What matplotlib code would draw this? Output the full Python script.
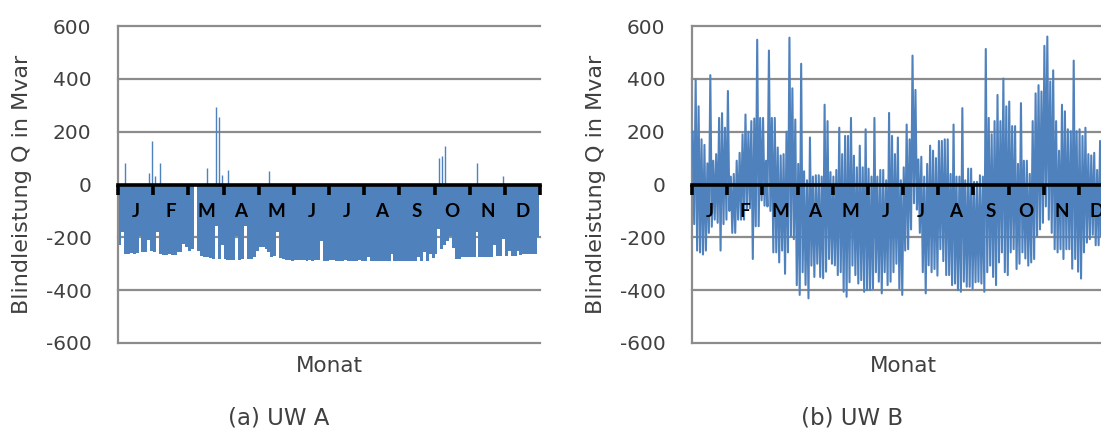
import matplotlib
matplotlib.use('Agg')
import matplotlib.pyplot as plt
import numpy as np

# ---------------- data ----------------
months = ['J', 'F', 'M', 'A', 'M', 'J', 'J', 'A', 'S', 'O', 'N', 'D']
bins_per_month = 12          # envelope samples per month (~2.5 days each)
y_ticks = [-600, -400, -200, 0, 200, 400, 600]
ylabel = 'Blindleistung Q in Mvar'
xlabel = 'Monat'
titles = ['(a) UW A', '(b) UW B']

# UW A: upper / lower envelope of the hourly reactive power (Mvar)
A_hi = [0, 0, 81, 0, 0, 0, 0, 0, 0, 0, 44, 166, 31, 0, 81, 0, 0, 0, 0, 0,
        0, 0, 0, 0, 0, 0, 0, 0, 0, 0, 62, 0, 0, 294, 256, 37, 0, 54, 0, 0,
        0, 0, 0, 0, 0, 0, 0, 0, 0, 0, 0, 50, 0, 0, 0, 0, 0, 0, 0, 0,
        0, 0, 0, 0, 0, 0, 0, 0, 0, 0, 0, 0, 0, 0, 0, 0, 0, 0, 0, 0,
        0, 0, 0, 0, 0, 0, 0, 0, 0, 0, 0, 0, 0, 0, 0, 0, 0, 0, 0, 0,
        0, 0, 0, 0, 0, 0, 0, 0, 0, 100, 106, 146, 0, 0, 0, 0, 0, 0, 0, 0,
        0, 0, 81, 0, 0, 0, 0, 0, 0, 0, 0, 31, 0, 0, 0, 0, 0, 0, 0, 0,
        0, 0, 0, 0]
A_lo = [-230, -180, -262, -262, -260, -262, -258, -195, -256, -255,
        -210, -250, -255, -181, -262, -265, -265, -262, -265, -265,
        -255, -255, -225, -235, -250, -245, -5, -250, -270, -275,
        -275, -280, -281, -156, -281, -230, -283, -285, -285, -285,
        -195, -285, -283, -156, -281, -281, -275, -250, -237, -237,
        -245, -256, -275, -270, -181, -280, -281, -285, -285, -288,
        -285, -285, -285, -285, -288, -285, -288, -285, -285, -212,
        -288, -290, -285, -287, -288, -290, -288, -287, -290, -288,
        -290, -288, -287, -290, -288, -275, -290, -290, -288, -290,
        -290, -288, -290, -262, -290, -290, -288, -290, -290, -288,
        -290, -290, -275, -290, -255, -290, -262, -280, -262, -170,
        -245, -230, -212, -194, -240, -281, -281, -275, -275, -275,
        -275, -275, -181, -275, -275, -275, -275, -275, -230, -270,
        -270, -206, -270, -250, -270, -270, -250, -265, -262, -262,
        -262, -262, -262, -200]

# UW B: upper / lower envelope of the hourly reactive power (Mvar)
B_hi = [200, 395, 296, 171, 150, 80, 414, 90, 115, 252, 270, 215, 354, 30,
        40, 90, 120, 190, 265, 200, 240, 250, 548, 252, 252, 90, 507, 252,
        252, 140, 110, 115, 200, 556, 364, 246, 78, 457, 50, 16, 178, 30,
        35, 35, 30, 302, 240, 47, 30, 55, 215, 115, 184, 184, 252, 109, 65,
        147, 65, 209, 60, 30, 252, 30, 55, 55, 16, 271, 184, 115, 178, 16,
        65, 227, 171, 488, 358, 95, 105, 30, 78, 147, 128, 100, 165, 165,
        171, 171, 40, 227, 30, 30, 289, 16, 60, 60, 10, 10, 35, 30, 513,
        252, 190, 240, 339, 240, 401, 296, 314, 221, 221, 78, 308, 90, 90,
        40, 240, 345, 376, 352, 525, 560, 390, 432, 240, 128, 302, 277, 209,
        202, 469, 202, 209, 184, 215, 115, 110, 120, 55, 165, 150, 120, 160,
        130]
B_lo = [-150, -250, -257, -265, -250, -183, -160, -133, -145, -250, -150,
        -133, -100, -183, -183, -133, -133, -133, -90, -90, -282, -158, -158,
        -60, -80, -83, -100, -257, -257, -295, -250, -338, -257, -195, -207,
        -381, -418, -332, -380, -431, -307, -350, -300, -350, -355, -330,
        -282, -300, -306, -343, -332, -406, -425, -370, -307, -343, -375,
        -362, -406, -400, -400, -394, -332, -368, -412, -332, -381, -368,
        -332, -300, -394, -418, -250, -245, -170, -71, -95, -183, -332, -412,
        -306, -332, -320, -345, -245, -290, -343, -343, -381, -375, -400,
        -406, -368, -387, -387, -394, -370, -368, -375, -406, -332, -307,
        -350, -381, -295, -257, -332, -343, -257, -245, -320, -300, -257,
        -280, -307, -295, -282, -195, -170, -145, -83, -133, -183, -245, -257,
        -245, -282, -245, -245, -319, -282, -330, -356, -257, -220, -207,
        -190, -230, -230, -195, -220, -240, -200, -220]

# ---------------- styling ----------------
W, H = 1101, 432
BLUE = '#4f81bd'
GRID = '#8c8c8c'
TXT = '#404040'
FONT = 'DejaVu Sans'

fig = plt.figure(figsize=(W / 100, H / 100), dpi=100)
panels = [(A_hi, A_lo, 118, True), (B_hi, B_lo, 692, False)]

for k, (hi, lo, left_px, solid_body) in enumerate(panels):
    ax = fig.add_axes([left_px / W, 1 - 343 / H, 422 / W, 317 / H])
    hi = np.asarray(hi, dtype=float)
    lo = np.asarray(lo, dtype=float)
    n = len(hi)
    idx = np.arange(n)

    # grid lines behind the data
    for v in y_ticks:
        if v != 0:
            ax.axhline(v, color=GRID, lw=1.6, zorder=0.5, clip_on=False)

    if solid_body:
        # dense body of the series: solid band between envelope and zero
        ax.fill_between(idx + 0.5, lo, np.minimum(hi, 0), step='mid',
                        color=BLUE, lw=0, zorder=1.8)
        pos = hi > 0
        ax.vlines(idx[pos] + 0.5, 0, hi[pos], color=BLUE, lw=1.0, zorder=1.9)
    else:
        xs = np.empty(2 * n)
        ys = np.empty(2 * n)
        xs[0::2] = idx + 0.25
        xs[1::2] = idx + 0.75
        ys[0::2] = hi
        ys[1::2] = lo
        ax.plot(xs, ys, color=BLUE, lw=1.5, zorder=1.9)

    ax.set_xlim(0, 12 * bins_per_month)
    ax.set_ylim(-600, 600)
    ax.set_axisbelow(False)

    # y axis
    ax.set_yticks(y_ticks)
    ax.set_yticklabels([str(v) for v in y_ticks], fontfamily=FONT)
    ax.tick_params(axis='y', length=0, pad=19, labelsize=14.5, labelcolor=TXT)

    # x axis on the zero line
    ax.spines['top'].set_visible(False)
    ax.spines['right'].set_visible(False)
    ax.spines['left'].set_color(GRID)
    ax.spines['left'].set_linewidth(1.6)
    ax.spines['left'].set_zorder(0.6)
    ax.spines['bottom'].set_position(('data', 0))
    ax.spines['bottom'].set_color('black')
    ax.spines['bottom'].set_linewidth(2.6)
    ax.spines['bottom'].set_zorder(3)

    bounds = np.arange(0, 12 * bins_per_month + 1, bins_per_month)
    centers = bounds[:-1] + bins_per_month / 2
    ax.set_xticks(bounds)
    ax.set_xticklabels([])
    ax.set_xticks(centers, minor=True)
    ax.set_xticklabels(months, minor=True, fontfamily='Lato',
                       fontweight='bold', fontsize=13.5, color='black')
    ax.tick_params(axis='x', which='major', direction='out', length=7,
                   width=2.6, color='black')
    ax.tick_params(axis='x', which='minor', length=0, pad=13)
    ax.xaxis.set_zorder(3)

    ax.set_ylabel(ylabel, fontsize=16, color=TXT, fontfamily=FONT)
    ax.yaxis.set_label_coords(-0.203, 0.5)
    ax.text(0.5, -0.0726, xlabel, transform=ax.transAxes, ha='center',
            va='center', fontsize=15.5, color=TXT, fontfamily=FONT)

fig.text(279 / W, 1 - 418 / H, titles[0], ha='center', va='center',
         fontsize=16.5, color=TXT, fontfamily=FONT)
fig.text(852 / W, 1 - 418 / H, titles[1], ha='center', va='center',
         fontsize=16.5, color=TXT, fontfamily=FONT)

fig.savefig('out.png', dpi=100)
